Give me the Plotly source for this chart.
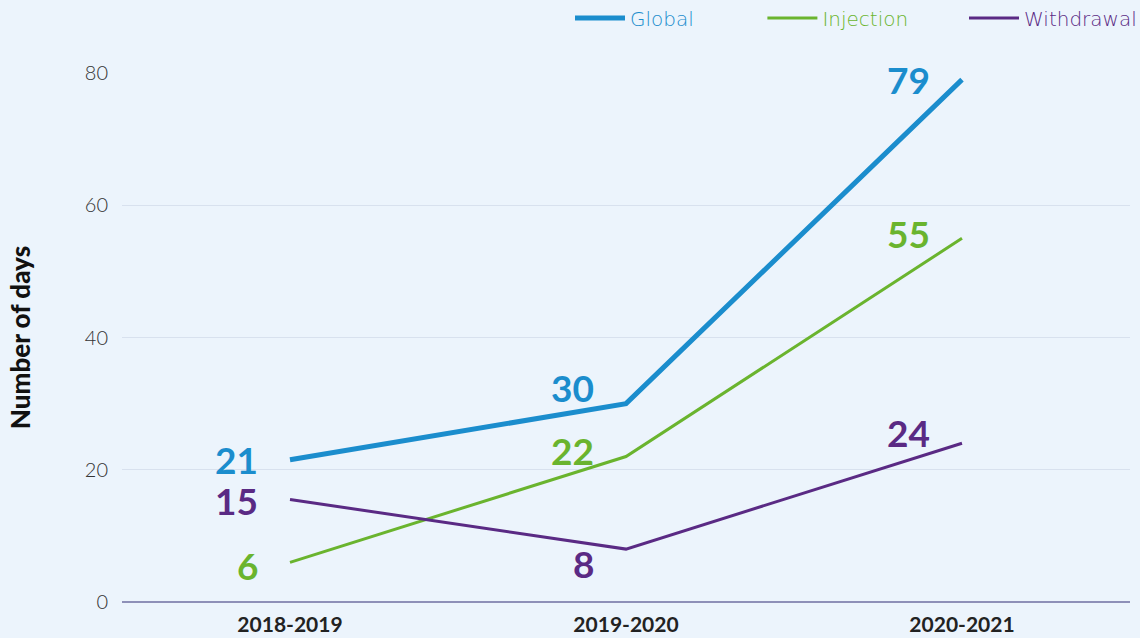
import plotly.graph_objects as go

categories = ["2018-2019", "2019-2020", "2020-2021"]
global_days = [21.5, 30, 79]
injection_days = [6, 22, 55]
withdrawal_days = [15.5, 8, 24]
global_labels = ["21", "30", "79"]
injection_labels = ["6", "22", "55"]
withdrawal_labels = ["15", "8", "24"]
y_ticks = [0, 20, 40, 60, 80]

BG = "#ECF4FC"
series = [
    ("Global", global_days, global_labels, "#1B8DCD", 5, [0, 16, 0], "\u00a0" * 10),
    ("Injection", injection_days, injection_labels, "#6AB42E", 3, [-3, 6, 5], "\u00a0" * 8),
    ("Withdrawal", withdrawal_days, withdrawal_labels, "#5A2A84", 3, [-1, -14, 11], ""),
]

fig = go.Figure()
annotations = []
for name, vals, labels, color, width, dys, pad in series:
    fig.add_trace(go.Scatter(
        x=categories, y=vals, mode="lines",
        name=f"<span style='color:{color}'>{name}</span>{pad}",
        line=dict(color=color, width=width),
        hoverinfo="skip",
    ))
    for xc, yv, lab, dy in zip(categories, vals, labels, dys):
        annotations.append(dict(
            x=xc, y=yv, xref="x", yref="y", text=f"<b>{lab}</b>",
            showarrow=False, xanchor="right", yanchor="middle",
            xshift=-30, yshift=dy,
            font=dict(family="Lato", size=37, color=color, weight=900),
        ))

fig.update_layout(
    width=1140, height=638,
    paper_bgcolor=BG, plot_bgcolor=BG,
    margin=dict(l=122, r=10, t=73, b=36, autoexpand=False),
    showlegend=True,
    legend=dict(orientation="h", x=(570 - 122) / 1008, xanchor="left",
                y=1 + 55 / 529, yanchor="middle",
                font=dict(family="DejaVu Sans", size=20, color="#333", weight=200),
                bgcolor="rgba(0,0,0,0)", itemwidth=50, tracegroupgap=0),
    annotations=annotations,
    font=dict(family="Lato"),
)
fig.update_xaxes(
    type="category", range=[-0.5, 2.5], showgrid=False, zeroline=False,
    showline=False, ticks="", ticklabelstandoff=8,
    tickfont=dict(family="Lato", size=21, color="#222", weight=700),
)
fig.update_yaxes(
    range=[0, 80], tickvals=y_ticks, showgrid=True, gridcolor="#D8E1EE", gridwidth=1,
    zeroline=True, zerolinecolor="#8E90B8", zerolinewidth=1.5,
    tickfont=dict(family="Lato", size=20, color="#333", weight=300),
    ticklabelstandoff=13,
    title=dict(text="Number of days", font=dict(family="Lato", size=26, color="#111", weight=900), standoff=46),
)

fig.write_html("out.html", config={"displayModeBar": False},
               post_script="document.body.style.margin='0';")
